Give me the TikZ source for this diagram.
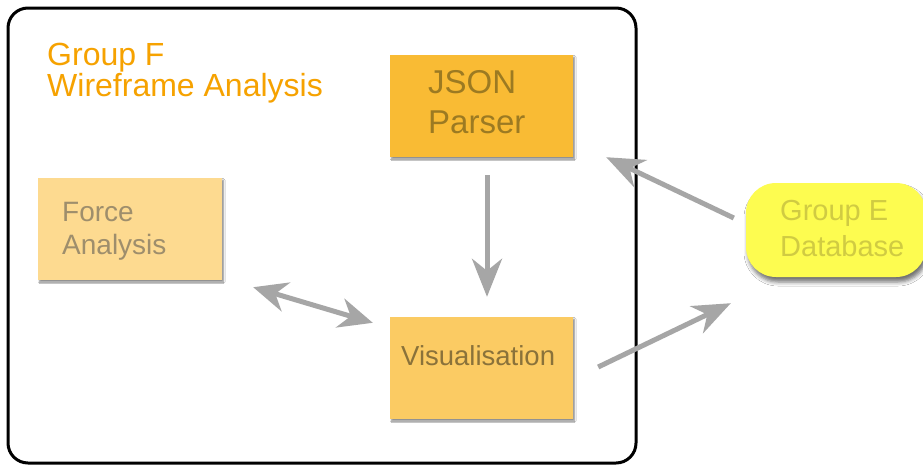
\documentclass[tikz,border=0pt]{standalone}
\usepackage{fontspec}
\setmainfont{Liberation Sans}
\usetikzlibrary{arrows.meta,shadows,shadows.blur}

\definecolor{titleorange}{HTML}{F6A200}
\definecolor{jsonfill}{HTML}{F9BB34}
\definecolor{jsontext}{HTML}{9C7A22}
\definecolor{forcefill}{HTML}{FDDA90}
\definecolor{forcetext}{HTML}{9E8E6C}
\definecolor{visfill}{HTML}{FBCB63}
\definecolor{vistext}{HTML}{8A723A}
\definecolor{dbfill}{HTML}{FDFC50}
\definecolor{dbtext}{HTML}{D0CB42}
\definecolor{arrowgray}{HTML}{A6A6A6}

\begin{document}
\begin{tikzpicture}[x=1pt,y=-1pt,
  box/.style={draw=none, inner sep=0pt, minimum width=183pt, minimum height=102pt,
    blur shadow={shadow xshift=1.5pt, shadow yshift=-2pt, shadow opacity=45,
      shadow blur radius=1.5pt}},
  dbbox/.style={draw=none, inner sep=0pt, rounded corners=30pt,
    minimum width=180pt, minimum height=94pt, fill=dbfill,
    blur shadow={shadow xshift=2pt, shadow yshift=-5pt, shadow opacity=55,
      shadow blur radius=4pt}},
  lbl/.style={anchor=north west, inner sep=0pt, align=left},
  tip/.style={Stealth[length=38pt,width=30pt,inset=12pt]},
  flow/.style={draw=arrowgray, line width=5pt, -{Stealth[length=38pt,width=30pt,inset=12pt]}},
  bothflow/.style={draw=arrowgray, line width=5pt,
    {Stealth[length=34pt,width=30pt,inset=11pt]}-{Stealth[length=34pt,width=30pt,inset=11pt]}}
]
% canvas
\useasboundingbox[fill=white] (0,0) rectangle (923,466);

% group frame
\draw[line width=3pt, rounded corners=20pt] (8,8) rectangle (636,463);

% group title
\node[lbl, text=titleorange, font=\fontsize{32}{31}\selectfont] (title) at (47,43)
  {Group F\\Wireframe Analysis};

% component boxes
\node[box, fill=jsonfill] (json) at (481.5,106) {};
\node[box, fill=forcefill, minimum width=184pt] (force) at (130,229) {};
\node[box, fill=visfill] (vis) at (481.5,368) {};
\node[dbbox] (db) at (836,230) {};

% box labels
\node[lbl, text=jsontext, font=\fontsize{33}{40}\selectfont] (jsonlbl) at (428,70)
  {JSON\\Parser};
\node[lbl, text=forcetext, font=\fontsize{28}{33}\selectfont] (forcelbl) at (62,202)
  {Force\\Analysis};
\node[lbl, text=vistext, font=\fontsize{27.5}{33}\selectfont] (vislbl) at (401,345)
  {Visualisation};
\node[lbl, text=dbtext, font=\fontsize{29}{36}\selectfont] (dblbl) at (780,200)
  {Group E\\Database};

% data flow
\draw[flow, shorten <=18pt, shorten >=20pt] ([xshift=5.5]json.south) -- ([xshift=5.5]vis.north);
\draw[bothflow] ([shift={(31,7)}]force.south east) -- ([shift={(-17,6)}]vis.north west);
\draw[flow] ([shift={(-12,-12)}]db.west) -- ([shift={(33,0)}]json.south east);
\draw[flow] ([shift={(25,-1)}]vis.east) -- ([shift={(-15,26)}]db.south west);
\end{tikzpicture}
\end{document}
